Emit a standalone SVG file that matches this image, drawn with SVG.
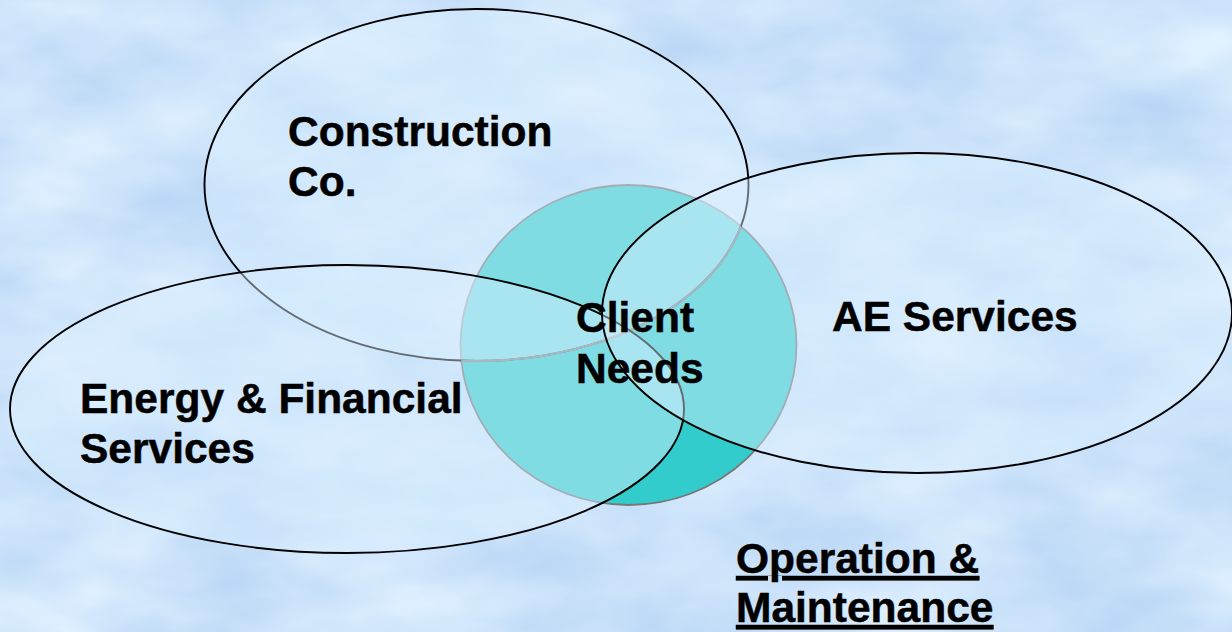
<svg xmlns="http://www.w3.org/2000/svg" width="1232" height="632" viewBox="0 0 1232 632">
  <style>
    .lbl { font-family: "Liberation Sans", Arial, sans-serif; font-weight: bold; font-size: 42.5px; fill: #000; stroke: #000; stroke-width: 0.5; }
    .set { fill: #dcf0ff; fill-opacity: 0.45; stroke: #000; stroke-width: 1.9; }
    .ul { text-decoration: underline; }
  </style>
  <defs>
    <filter id="clouds" x="0" y="0" width="1232" height="632" filterUnits="userSpaceOnUse" color-interpolation-filters="sRGB">
      <feTurbulence type="fractalNoise" baseFrequency="0.006 0.012" numOctaves="4" seed="7" result="n"/>
      <feColorMatrix in="n" type="matrix" values="0.24 0 0 0 0.68  0.16 0 0 0 0.81  0.06 0 0 0 0.95  0 0 0 0 1"/>
    </filter>
    <clipPath id="circleClip">
      <ellipse cx="628.5" cy="345" rx="168" ry="160"/>
    </clipPath>
  </defs>

  <rect x="0" y="0" width="1232" height="632" fill="#cce4fa"/>
  <rect x="0" y="0" width="1232" height="632" filter="url(#clouds)"/>

  <g id="client-needs">
    <ellipse cx="628.5" cy="345" rx="168" ry="160" fill="#33cccc" stroke="#777777" stroke-width="1.8"/>
  </g>

  <g id="construction">
    <ellipse class="set" cx="476.5" cy="185" rx="272" ry="176"/>
    <ellipse cx="476.5" cy="185" rx="272" ry="176" fill="none" stroke="#7a8a90" stroke-width="2.4" clip-path="url(#circleClip)"/>
    <text class="lbl" x="288" y="146">Construction</text>
    <text class="lbl" x="288" y="196">Co.</text>
  </g>

  <g id="energy-financial">
    <ellipse class="set" cx="347" cy="409" rx="337" ry="144"/>
    <text class="lbl" x="80" y="413">Energy &amp; Financial</text>
    <text class="lbl" x="80" y="463">Services</text>
  </g>

  <g id="ae-services">
    <ellipse class="set" cx="917" cy="313" rx="315" ry="160"/>
    <text class="lbl" x="832" y="331">AE Services</text>
  </g>

  <g id="client-needs-label">
    <text class="lbl" x="576" y="332">Client</text>
    <text class="lbl" x="576" y="383">Needs</text>
  </g>

  <g id="operation-maintenance">
    <text class="lbl ul" x="736" y="573">Operation &amp;</text>
    <text class="lbl ul" x="736" y="622">Maintenance</text>
  </g>
</svg>
